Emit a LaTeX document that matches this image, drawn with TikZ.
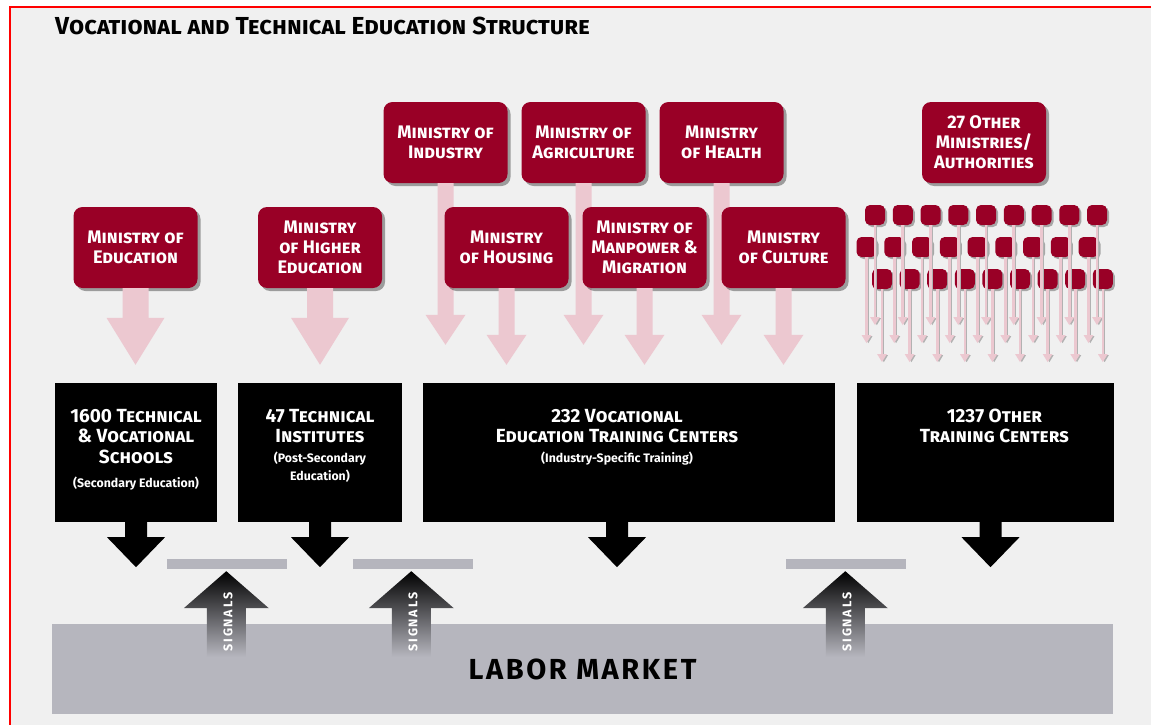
\documentclass[tikz,border=0pt]{standalone}
\usepackage{fontspec}
\setmainfont{Fira Sans}
\usetikzlibrary{calc,shadows,arrows.meta}
\definecolor{maroon}{RGB}{153,0,38}
\definecolor{pinkar}{RGB}{236,200,208}
\definecolor{bgc}{RGB}{240,240,240}
\definecolor{bargray}{RGB}{181,181,189}
\definecolor{lmgray}{RGB}{182,182,190}
\newcommand\minfont{\fontsize{18.2}{20}\selectfont\bfseries\scshape}
\newcommand\boxfont{\fontsize{19}{20.5}\selectfont\bfseries\scshape}
\newcommand\subfont{\fontsize{12.3}{18}\selectfont\bfseries}
% fat vertical arrow pointing down: start, tip, half shaft, half head, head length, options
\newcommand\fatarrow[6]{\path[#6] let \p1=(#1), \p2=(#2) in
  (\x1-#3,\y1) -- (\x1-#3,\y2+#5) -- (\x1-#4,\y2+#5) -- (\x1,\y2) --
  (\x1+#4,\y2+#5) -- (\x1+#3,\y2+#5) -- (\x1+#3,\y1) -- cycle;}
% fat vertical arrow pointing up
\newcommand\fatarrowup[6]{\path[#6] let \p1=(#1), \p2=(#2) in
  (\x1-#3,\y1) -- (\x1-#3,\y2-#5) -- (\x1-#4,\y2-#5) -- (\x1,\y2) --
  (\x1+#4,\y2-#5) -- (\x1+#3,\y2-#5) -- (\x1+#3,\y1) -- cycle;}
\begin{document}
\begin{tikzpicture}[x=1pt,y=-1pt,
  minbox/.style={fill=maroon, rounded corners=9pt, minimum width=124pt, minimum height=81pt,
    inner sep=0pt, text=white, align=center, font=\minfont,
    drop shadow={shadow xshift=3pt, shadow yshift=-3pt, opacity=0.35, fill=black}},
  smallbox/.style={fill=maroon, rounded corners=5pt, minimum size=20pt, inner sep=0pt,
    drop shadow={shadow xshift=2pt, shadow yshift=-2pt, opacity=0.3, fill=black}},
  blackbox/.style={fill=black, inner sep=0pt},
  btext/.style={text=white, align=center, font=\boxfont, inner sep=0pt},
  stext/.style={text=white, align=center, font=\subfont, inner sep=0pt},
  smallarrow/.style={draw=pinkar, line width=2.6pt, -{Triangle[width=9pt,length=8pt]},
    preaction={draw=black!30, line width=1.2pt, -{Triangle[width=8pt,length=7pt]}, transform canvas={xshift=1.8pt}}},
  bar/.style={fill=bargray, inner sep=0pt, minimum width=120pt, minimum height=10pt},
  sigtext/.style={text=white, font=\fontsize{12.5}{12.5}\selectfont\bfseries\addfontfeatures{LetterSpace=14}, inner sep=0pt},
  sigshade/.style={shade, top color=black, middle color=black!85, bottom color=lmgray}
]
\useasboundingbox (0,0) rectangle (1151,725);
\fill[white] (0,0) rectangle (1151,725);
\fill[bgc] (10,7) rectangle (1151,725);
\draw[red, line width=2pt] (10,725) -- (10,7) -- (1151,7);

\node[anchor=base west, inner sep=0pt, font=\fontsize{24.6}{24.6}\selectfont\bfseries\scshape] (title) at (55,35)
  {Vocational and Technical Education Structure};

% black boxes
\node[blackbox, minimum width=162pt, minimum height=139pt] (b1) at (136,452.5) {};
\node[blackbox, minimum width=164pt, minimum height=139pt] (b2) at (320,452.5) {};
\node[blackbox, minimum width=412pt, minimum height=139pt] (b3) at (629,452.5) {};
\node[blackbox, minimum width=257pt, minimum height=139pt] (b4) at (985.5,452.5) {};

\node[btext, anchor=north] (b1t) at ($(b1.north)+(0,26)$) {1600 Technical\\\& Vocational\\Schools};
\node[stext, anchor=north] (b1s) at ($(b1t.south)+(0,13.5)$) {(Secondary Education)};
\node[btext, anchor=north] (b2t) at ($(b2.north)+(0,26)$) {47 Technical\\Institutes};
\node[stext, anchor=north] (b2s) at ($(b2t.south)+(0,8.5)$) {(Post-Secondary\\Education)};
\node[btext, anchor=north] (b3t) at ($(b3.north)+(-12,26)$) {232 Vocational\\Education Training Centers};
\node[stext, anchor=north] (b3s) at ($(b3t.south)+(0,8.5)$) {(Industry-Specific Training)};
\node[btext, anchor=north] (b4t) at ($(b4.north)+(9,26)$) {1237 Other\\Training Centers};

% upper ministries
\node[minbox] (ind) at (445.5,142.5) {Ministry of\\Industry};
\node[minbox] (agr) at (583.5,142.5) {Ministry of\\Agriculture};
\node[minbox] (hea) at (721.5,142.5) {Ministry\\of Health};
\node[minbox] (oth) at (984,142.5) {27 Other\\Ministries/\\Authorities};
\fatarrow{ind.south}{$(b3.north)+(0,-38)$}{8pt}{20pt}{30pt}{fill=pinkar}
\fatarrow{agr.south}{$(b3.north)+(0,-38)$}{8pt}{20pt}{30pt}{fill=pinkar}
\fatarrow{hea.south}{$(b3.north)+(0,-38)$}{8pt}{20pt}{30pt}{fill=pinkar}

% lower ministries
\node[minbox] (edu) at (135.5,247.5) {Ministry of\\Education};
\node[minbox] (hig) at (320,247.5) {Ministry\\of Higher\\Education};
\node[minbox] (hou) at (506.5,247.5) {Ministry\\of Housing};
\node[minbox] (man) at (644.5,247.5) {Ministry of\\Manpower \&\\Migration};
\node[minbox] (cul) at (783.5,247.5) {Ministry\\of Culture};
\fatarrow{edu.south}{$(b1.north)+(0,-18)$}{13pt}{29pt}{47pt}{fill=pinkar}
\fatarrow{hig.south}{$(b2.north)+(0,-18)$}{13pt}{29pt}{47pt}{fill=pinkar}
\fatarrow{hou.south}{$(b3.north)+(0,-18)$}{8pt}{20pt}{30pt}{fill=pinkar}
\fatarrow{man.south}{$(b3.north)+(0,-18)$}{8pt}{20pt}{30pt}{fill=pinkar}
\fatarrow{cul.south}{$(b3.north)+(0,-18)$}{8pt}{20pt}{30pt}{fill=pinkar}

% small ministries
\foreach \i in {0,...,8} {
  \node[smallbox] (sa\i) at (875+27.75*\i,215) {};
  \node[smallbox] (sb\i) at (866.5+27.75*\i,247) {};
  \node[smallbox] (sc\i) at (882+27.6*\i,279) {};
}
\foreach \i in {0,...,8} {
  \draw[smallarrow] (sa\i.south) -- ++(0,100);
  \draw[smallarrow] (sb\i.south) -- ++(0,86);
  \draw[smallarrow] (sc\i.south) -- ++(0,73);
}

% black arrows down
\fatarrow{b1.south}{$(b1.south)+(0,45)$}{11pt}{29pt}{30pt}{fill=black}
\fatarrow{b2.south}{$(b2.south)+(0,45)$}{11pt}{29pt}{30pt}{fill=black}
\fatarrow{$(b3.south)+(-12,0)$}{$(b3.south)+(0,45)$}{11pt}{29pt}{30pt}{fill=black}
\fatarrow{$(b4.south)+(5,0)$}{$(b4.south)+(0,45)$}{11pt}{29pt}{30pt}{fill=black}

% bars
\node[bar] (g1) at (227,564) {};
\node[bar] (g2) at (412.5,564) {};
\node[bar] (g3) at (846,564) {};

% labor market
\node[fill=lmgray, inner sep=0pt, minimum width=1061pt, minimum height=90pt,
  font=\fontsize{29}{29}\selectfont\bfseries\addfontfeatures{LetterSpace=9}] (lm) at (582.5,669) {LABOR MARKET};

% signals arrows
\fatarrowup{$(lm.north west)+(174.5,33)$}{$(g1.south)+(0,2)$}{19.5pt}{42.5pt}{37pt}{sigshade}
\fatarrowup{$(lm.north west)+(359.5,33)$}{$(g2.south)+(0,2)$}{19.5pt}{42.5pt}{37pt}{sigshade}
\fatarrowup{$(lm.north west)+(793.5,33)$}{$(g3.south)+(0,2)$}{19.5pt}{42.5pt}{37pt}{sigshade}
\node[sigtext, rotate=90] (sig1) at (228,622) {SIGNALS};
\node[sigtext, rotate=90] (sig2) at (413,622) {SIGNALS};
\node[sigtext, rotate=90] (sig3) at (847,622) {SIGNALS};
\end{tikzpicture}
\end{document}
